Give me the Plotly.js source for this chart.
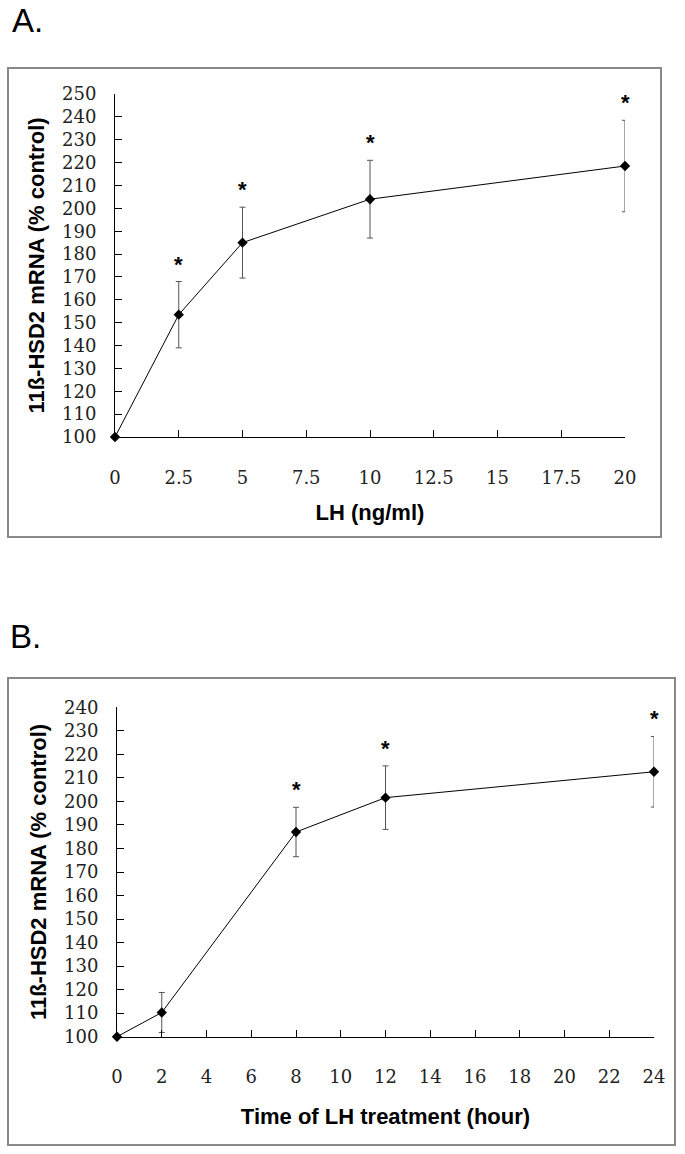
<!DOCTYPE html>
<html>
<head>
<meta charset="utf-8">
<script src="https://cdn.plot.ly/plotly-3.0.1.min.js"></script>
<style>html,body{margin:0;padding:0;background:#fff;}#chart{width:685px;height:1154px;}</style>
</head>
<body>
<div id="chart"></div>
<script>
// Panel A: dose response
const doseLH = [0, 2.5, 5, 10, 20];
const doseMean = [100, 153.5, 185, 204, 218.5];
const doseSE = [0, 14.5, 15.5, 17, 20];
const doseSig = ['', '*', '*', '*', '*'];
// Panel B: time course
const timeHours = [0, 2, 8, 12, 24];
const timeMean = [100, 110.3, 187, 201.6, 212.6];
const timeSE = [0, 8.5, 10.5, 13.5, 15];
const timeSig = ['', '', '*', '*', '*'];

const yTitle = '11ß-HSD2 mRNA (% control)';
const W = 685, H = 1154;
const px = v => v / W;
const py = v => 1 - v / H;

function seriesTrace(x, y, e, xa, ya) {
  return {
    type: 'scatter', mode: 'lines+markers', x: x, y: y, xaxis: xa, yaxis: ya,
    line: {color: '#000', width: 1},
    marker: {symbol: 'diamond', size: 8, color: '#000'},
    error_y: {type: 'data', array: e, visible: true, color: '#555', thickness: 1, width: 3},
    cliponaxis: false, showlegend: false, hoverinfo: 'skip'
  };
}

const traces = [
  seriesTrace(doseLH, doseMean, doseSE, 'x', 'y'),
  seriesTrace(timeHours, timeMean, timeSE, 'x2', 'y2')
];

const sigAnn = [];
function addStars(x, m, e, s, xr, yr) {
  for (let i = 0; i < x.length; i++) {
    if (!s[i]) continue;
    sigAnn.push({xref: xr, yref: yr, x: x[i], y: m[i] + e[i], text: '<b>' + s[i] + '</b>', showarrow: false,
      yanchor: 'bottom', yshift: 3, font: {family: 'Liberation Sans, Arial', size: 22, color: '#000'}});
  }
}
addStars(doseLH, doseMean, doseSE, doseSig, 'x', 'y');
addStars(timeHours, timeMean, timeSE, timeSig, 'x2', 'y2');

const tickFont = {family: 'DejaVu Serif, serif', size: 18, color: '#222'};
const titleFont = {family: 'Liberation Sans, Arial, sans-serif', size: 22, color: '#000'};

function xAxis(domain, range, dtick, anchor, title, standoff) {
  return {domain: domain, range: range, dtick: dtick, tick0: 0, anchor: anchor,
    showline: true, linecolor: '#000', linewidth: 1, ticks: 'inside', ticklen: 7, tickcolor: '#000',
    showgrid: false, zeroline: false, tickfont: tickFont, ticklabelstandoff: 24, automargin: false,
    title: {text: '<b>' + title + '</b>', font: titleFont, standoff: standoff}};
}
function yAxis(domain, range, anchor, standoff) {
  return {domain: domain, range: range, dtick: 10, tick0: 100, anchor: anchor,
    showline: true, linecolor: '#000', linewidth: 1, ticks: 'inside', ticklen: 7, tickcolor: '#000',
    showgrid: false, zeroline: false, tickfont: tickFont, ticklabelstandoff: 14, automargin: false,
    title: {text: '<b>' + yTitle + '</b>', font: titleFont, standoff: standoff}};
}

const layout = {
  width: W, height: H, margin: {l: 0, r: 0, t: 0, b: 0},
  paper_bgcolor: '#fff', plot_bgcolor: 'rgba(0,0,0,0)', showlegend: false,
  xaxis: xAxis([px(115), px(625)], [0, 20], 2.5, 'y', 'LH (ng/ml)', 18),
  yaxis: yAxis([py(437), py(94)], [100, 250], 'x', 11),
  xaxis2: xAxis([px(117), px(654)], [0, 24], 2, 'y2', 'Time of LH treatment (hour)', 22),
  yaxis2: yAxis([py(1036.7), py(707.3)], [100, 240], 'x2', 11),
  shapes: [
    {type: 'rect', xref: 'paper', yref: 'paper', x0: px(8), x1: px(661), y0: py(537), y1: py(68),
      line: {color: '#888', width: 2}, fillcolor: 'rgba(0,0,0,0)', layer: 'below'},
    {type: 'rect', xref: 'paper', yref: 'paper', x0: px(8), x1: px(675), y0: py(1145), y1: py(678),
      line: {color: '#888', width: 2}, fillcolor: 'rgba(0,0,0,0)', layer: 'below'}
  ],
  annotations: [
    {xref: 'paper', yref: 'paper', x: px(10), y: py(21), xanchor: 'left', yanchor: 'middle',
      text: 'A.', showarrow: false, font: {family: 'Liberation Sans, Arial', size: 33, color: '#000'}},
    {xref: 'paper', yref: 'paper', x: px(8), y: py(636), xanchor: 'left', yanchor: 'middle',
      text: 'B.', showarrow: false, font: {family: 'Liberation Sans, Arial', size: 33, color: '#000'}}
  ].concat(sigAnn)
};

Plotly.newPlot('chart', traces, layout, {staticPlot: true});
</script>
</body>
</html>
